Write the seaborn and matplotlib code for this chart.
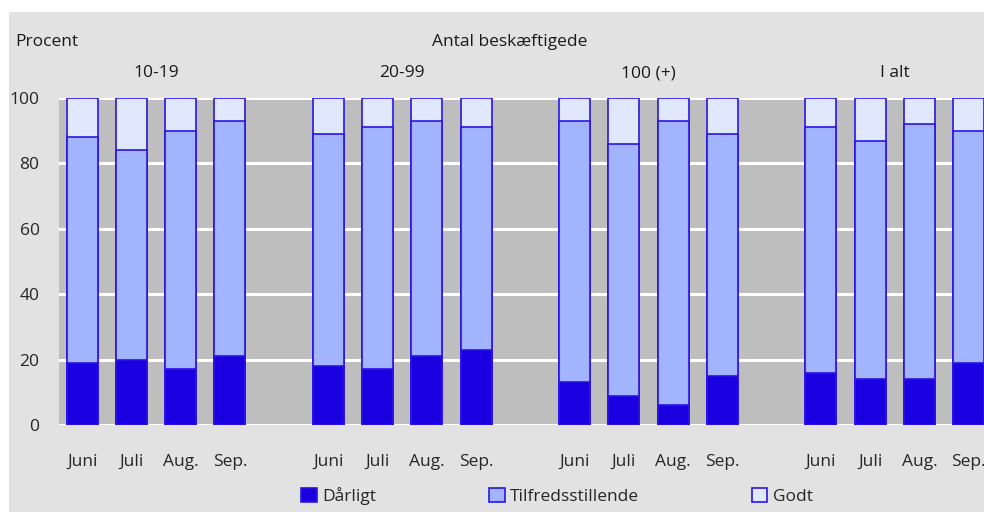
import numpy as np
import pandas as pd
import matplotlib
matplotlib.use("Agg")
import matplotlib.pyplot as plt
import seaborn as sns
from matplotlib.patches import Rectangle, Patch

groups = ["10-19", "20-99", "100 (+)", "I alt"]
months = ["Juni", "Juli", "Aug.", "Sep."]
darligt = [19, 20, 17, 21, 18, 17, 21, 23, 13, 9, 6, 15, 16, 14, 14, 19]
tilfreds = [69, 64, 73, 72, 71, 74, 72, 68, 80, 77, 87, 74, 75, 73, 78, 71]
godt = [12, 16, 10, 7, 11, 9, 7, 9, 7, 14, 7, 11, 9, 13, 8, 10]
series = ["Dårligt", "Tilfredsstillende", "Godt"]
yticks = [0, 20, 40, 60, 80, 100]

C_DARK = "#1a00e0"
C_MID = "#a2b4fe"
C_LIGHT = "#e0e8fe"
C_EDGE = "#2b14e6"
FIG_BG = "#e2e2e2"
AX_BG = "#bebebe"
FS = 12.5

sns.set_theme(style="white")
plt.rcParams["font.family"] = ["Open Sans", "DejaVu Sans"]

rows = []
for gi, g in enumerate(groups):
    for mi, m in enumerate(months):
        k = gi * len(months) + mi
        rows.append({"group": g, "month": m, "pos": gi * 5 + mi,
                     "d": darligt[k], "t": tilfreds[k], "g": godt[k]})
df = pd.DataFrame(rows)
df["cum_dt"] = df["d"] + df["t"]
df["cum_all"] = df["d"] + df["t"] + df["g"]

fig = plt.figure(figsize=(9.84, 5.12), dpi=100)
fig.patch.set_facecolor("white")
fig.patches.append(Rectangle((9 / 984, 0), 1, 1 - 12 / 512, transform=fig.transFigure,
                             facecolor=FIG_BG, edgecolor="none", zorder=-10))

ax = fig.add_axes([59 / 984, 1 - 425 / 512, 1 - 59 / 984, (425 - 98) / 512])
ax.set_facecolor(AX_BG)

w = 0.63
for col, colr in [("cum_all", C_LIGHT), ("cum_dt", C_MID), ("d", C_DARK)]:
    sns.barplot(data=df, x="pos", y=col, native_scale=True, width=w, color=colr,
                edgecolor=C_EDGE, linewidth=1.2, saturation=1, errorbar=None, ax=ax, zorder=3)

ax.set_xlim(-0.47, 18.31)
ax.set_ylim(0, 100)
ax.set_yticks(yticks)
ax.set_yticklabels([str(v) for v in yticks], fontsize=FS)
ax.set_xticks(df["pos"])
ax.set_xticklabels(df["month"], fontsize=FS)
ax.tick_params(axis="both", length=0)
ax.tick_params(axis="x", pad=21)
ax.tick_params(axis="y", pad=14)
for lab in ax.get_yticklabels():
    lab.set_horizontalalignment("right")
for v in yticks[1:]:
    ax.axhline(v, color="white", lw=2.2, zorder=1)
ax.axhline(0, color="white", lw=2.2, zorder=1)
ax.set_xlabel("")
ax.set_ylabel("")
for s in ax.spines.values():
    s.set_visible(False)

# group labels
for gi, g in enumerate(groups):
    cx = gi * 5 + 1.5
    ax.text(cx, 1.075, g, transform=ax.get_xaxis_transform(), ha="center", va="center",
            fontsize=FS, color="#1a1a1a")

fig.text(15 / 984, 1 - 42 / 512, "Procent", ha="left", va="center", fontsize=FS, color="#1a1a1a")
fig.text(510 / 984, 1 - 42 / 512, "Antal beskæftigede", ha="center", va="center",
         fontsize=FS, color="#1a1a1a")

handles = [Patch(facecolor=c, edgecolor=C_EDGE, linewidth=1.2) for c in (C_DARK, C_MID, C_LIGHT)]
leg = fig.legend(handles, series, loc="center", bbox_to_anchor=(557 / 984, 1 - 496 / 512), ncol=3,
                 frameon=False, fontsize=FS, handlelength=0.9, handleheight=0.9,
                 handletextpad=0.3, columnspacing=6.5, borderaxespad=0)

fig.savefig("out.png", dpi=100, facecolor=fig.get_facecolor())
